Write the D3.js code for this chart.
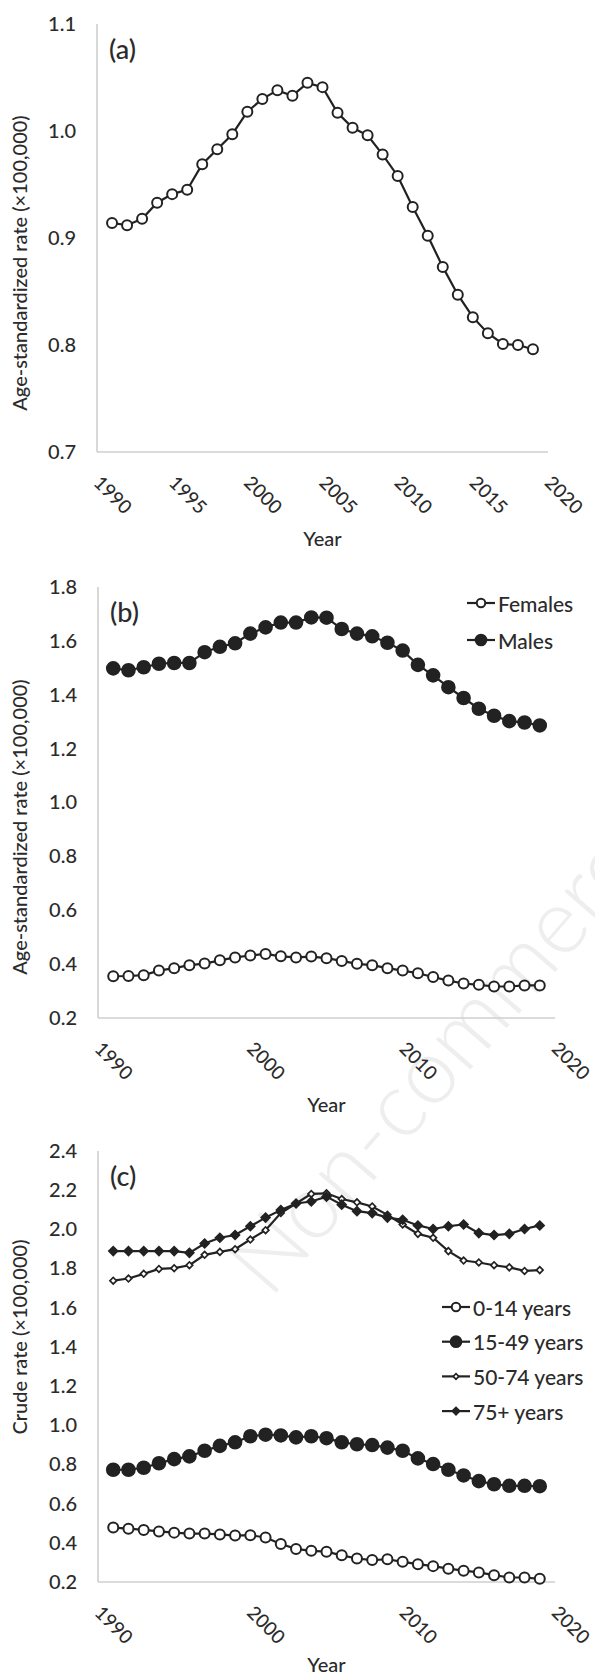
<!DOCTYPE html>
<html>
<head>
<meta charset="utf-8">
<script src="https://cdn.jsdelivr.net/npm/d3@7"></script>
<style>
  body { margin: 0; background: #fff; }
  svg { display: block; font-family: Lato, "Open Sans", sans-serif; }
</style>
</head>
<body>
<script>
"use strict";

// data, 1991-2019
const years = d3.range(1991, 2020);

const overall = [0.914, 0.912, 0.918, 0.933, 0.941, 0.945, 0.969, 0.983, 0.997, 1.018,
                 1.030, 1.038, 1.033, 1.045, 1.041, 1.017, 1.003, 0.996, 0.978, 0.958,
                 0.929, 0.902, 0.873, 0.847, 0.826, 0.811, 0.801, 0.800, 0.796];

const females = [0.355, 0.356, 0.359, 0.376, 0.385, 0.396, 0.402, 0.414, 0.425, 0.432,
                 0.438, 0.429, 0.425, 0.428, 0.422, 0.412, 0.401, 0.396, 0.385, 0.376,
                 0.366, 0.352, 0.339, 0.328, 0.323, 0.317, 0.317, 0.321, 0.321];

const males = [1.498, 1.491, 1.502, 1.515, 1.518, 1.518, 1.558, 1.578, 1.591, 1.627,
               1.650, 1.668, 1.668, 1.687, 1.686, 1.644, 1.627, 1.617, 1.593, 1.564,
               1.511, 1.472, 1.428, 1.388, 1.348, 1.322, 1.302, 1.297, 1.286];

const age0to14 = [0.478, 0.472, 0.466, 0.458, 0.452, 0.447, 0.447, 0.443, 0.437, 0.439,
                  0.427, 0.394, 0.369, 0.359, 0.355, 0.336, 0.320, 0.312, 0.316, 0.303,
                  0.291, 0.281, 0.268, 0.258, 0.249, 0.235, 0.223, 0.223, 0.216];

const age15to49 = [0.773, 0.773, 0.783, 0.806, 0.827, 0.841, 0.870, 0.895, 0.913, 0.944,
                   0.952, 0.948, 0.938, 0.944, 0.934, 0.913, 0.903, 0.899, 0.886, 0.870,
                   0.831, 0.802, 0.773, 0.744, 0.715, 0.699, 0.691, 0.691, 0.689];

const age50to74 = [1.738, 1.749, 1.773, 1.798, 1.802, 1.817, 1.870, 1.885, 1.899, 1.948,
                   1.996, 2.083, 2.132, 2.181, 2.184, 2.155, 2.138, 2.117, 2.074, 2.025,
                   1.977, 1.957, 1.889, 1.841, 1.831, 1.817, 1.806, 1.788, 1.792];

const age75plus = [1.889, 1.889, 1.889, 1.889, 1.889, 1.880, 1.928, 1.957, 1.971, 2.016,
                   2.060, 2.099, 2.132, 2.142, 2.167, 2.126, 2.093, 2.083, 2.060, 2.049,
                   2.020, 2.002, 2.016, 2.025, 1.981, 1.971, 1.977, 2.002, 2.020];

const ticksA = [0.7, 0.8, 0.9, 1.0, 1.1];
const ticksB = [0.2, 0.4, 0.6, 0.8, 1.0, 1.2, 1.4, 1.6, 1.8];
const ticksC = [0.2, 0.4, 0.6, 0.8, 1.0, 1.2, 1.4, 1.6, 1.8, 2.0, 2.2, 2.4];
const yearTicksA = [1990, 1995, 2000, 2005, 2010, 2015, 2020];
const yearTicksBC = [1990, 2000, 2010, 2020];

const width = 595, height = 1677;
const ink = "#222";
const textInk = "#2b2b2b";

const svg = d3.select("body").append("svg")
    .attr("width", width)
    .attr("height", height);

svg.append("rect").attr("width", width).attr("height", height).attr("fill", "#fff");

// faint watermark behind everything
svg.append("text")
    .attr("transform", "translate(270,1300) rotate(-49)")
    .attr("font-size", 92)
    .attr("font-weight", 300)
    .attr("fill", "#eeeeee")
    .text("Non-commercial use only");

// marker drawing
const circleOpen = { shape: "circle", r: 5, fill: "#fff" };
const circleFull = { shape: "circle", r: 6.3, fill: ink };
const diamondOpen = { shape: "diamond", size: 22, fill: "#fff" };
const diamondFull = { shape: "diamond", size: 38, fill: ink };

function drawMarker(g, x, y, m, scale) {
    scale = scale || 1;
    if (m.shape === "circle") {
        g.append("circle")
            .attr("cx", x).attr("cy", y)
            .attr("r", m.r * scale)
            .attr("fill", m.fill)
            .attr("stroke", ink)
            .attr("stroke-width", 2);
    } else {
        g.append("path")
            .attr("d", d3.symbol().type(d3.symbolSquare).size(m.size * scale * scale)())
            .attr("transform", `translate(${x},${y}) rotate(45)`)
            .attr("fill", m.fill)
            .attr("stroke", ink)
            .attr("stroke-width", 1.7);
    }
}

function panel(opt) {
    const x = d3.scaleLinear().domain([1990, 2020]).range([opt.left, opt.right]);
    const y = d3.scaleLinear().domain(opt.yDomain).range([opt.bottom, opt.top]);
    const g = svg.append("g");

    // axis lines (Excel style, light grey, no ticks)
    g.append("line")
        .attr("x1", opt.left).attr("x2", opt.left)
        .attr("y1", opt.top).attr("y2", opt.bottom)
        .attr("stroke", "#cfcfcf").attr("stroke-width", 1.6);
    g.append("line")
        .attr("x1", opt.left).attr("x2", opt.right)
        .attr("y1", opt.bottom).attr("y2", opt.bottom)
        .attr("stroke", "#cfcfcf").attr("stroke-width", 1.6);

    const yAxis = g.append("g")
        .attr("transform", `translate(${opt.left},0)`)
        .call(d3.axisLeft(y).tickValues(opt.yTicks).tickSize(0).tickPadding(21)
            .tickFormat(d3.format(".1f")));
    yAxis.select(".domain").remove();
    yAxis.selectAll("text")
        .attr("font-size", 20)
        .attr("font-weight", 500)
        .attr("font-family", "Lato, sans-serif")
        .attr("fill", textInk);

    const xAxis = g.append("g")
        .attr("transform", `translate(0,${opt.bottom})`)
        .call(d3.axisBottom(x).tickValues(opt.xTicks).tickSize(0).tickFormat(d3.format("d")));
    xAxis.select(".domain").remove();
    xAxis.selectAll("text")
        .attr("font-size", 19)
        .attr("font-weight", 500)
        .attr("font-family", "Lato, sans-serif")
        .attr("fill", textInk)
        .attr("text-anchor", "start")
        .attr("x", 0).attr("y", 0).attr("dy", 0)
        .attr("transform", "translate(-5,32) rotate(45)");

    g.append("text")
        .attr("x", (opt.left + opt.right) / 2)
        .attr("y", opt.bottom + opt.yearGap)
        .attr("text-anchor", "middle")
        .attr("dominant-baseline", "central")
        .attr("font-size", 20)
        .attr("font-weight", 500)
        .attr("fill", textInk)
        .text("Year");

    g.append("text")
        .attr("transform", `translate(27,${opt.yLabelCenter}) rotate(-90)`)
        .attr("text-anchor", "middle")
        .attr("font-size", 20)
        .attr("font-weight", 500)
        .attr("fill", textInk)
        .text(opt.yLabel);

    g.append("text")
        .attr("x", opt.left + 12)
        .attr("y", opt.top + 35)
        .attr("font-size", 27)
        .attr("font-weight", 500)
        .attr("fill", textInk)
        .text(opt.tag);

    const line = d3.line().x((d, i) => x(years[i])).y(d => y(d));

    opt.series.forEach(s => {
        g.append("path")
            .datum(s.values)
            .attr("d", line)
            .attr("fill", "none")
            .attr("stroke", ink)
            .attr("stroke-width", 2.2);
        const mg = g.append("g");
        s.values.forEach((v, i) => drawMarker(mg, x(years[i]), y(v), s.marker));
    });

    if (opt.legend) {
        const L = opt.legend;
        opt.series.forEach((s, i) => {
            const cy = L.y + i * L.step;
            g.append("line")
                .attr("x1", L.x).attr("x2", L.x + 28)
                .attr("y1", cy).attr("y2", cy)
                .attr("stroke", ink).attr("stroke-width", 2.2);
            drawMarker(g, L.x + 14, cy, s.marker, 0.85);
            g.append("text")
                .attr("x", L.x + 31)
                .attr("y", cy)
                .attr("dominant-baseline", "central")
                .attr("font-size", 21)
                .attr("font-weight", 500)
                .attr("fill", textInk)
                .text(s.name);
        });
    }
}

panel({
    tag: "(a)",
    left: 97, right: 548, top: 24, bottom: 452, yearGap: 86,
    yDomain: [0.7, 1.1], yTicks: ticksA, xTicks: yearTicksA,
    yLabel: "Age-standardized rate (\u00d7100,000)", yLabelCenter: 263,
    series: [{ name: "All", values: overall, marker: circleOpen }]
});

panel({
    tag: "(b)",
    left: 98, right: 555, top: 587, bottom: 1018, yearGap: 86,
    yDomain: [0.2, 1.8], yTicks: ticksB, xTicks: yearTicksBC,
    yLabel: "Age-standardized rate (\u00d7100,000)", yLabelCenter: 827,
    series: [
        { name: "Females", values: females, marker: circleOpen },
        { name: "Males", values: males, marker: circleFull }
    ],
    legend: { x: 467, y: 603, step: 37 }
});

panel({
    tag: "(c)",
    left: 98, right: 555, top: 1151, bottom: 1582, yearGap: 82,
    yDomain: [0.2, 2.4], yTicks: ticksC, xTicks: yearTicksBC,
    yLabel: "Crude rate (\u00d7100,000)", yLabelCenter: 1337,
    series: [
        { name: "0-14 years", values: age0to14, marker: circleOpen },
        { name: "15-49 years", values: age15to49, marker: circleFull },
        { name: "50-74 years", values: age50to74, marker: diamondOpen },
        { name: "75+ years", values: age75plus, marker: diamondFull }
    ],
    legend: { x: 442, y: 1307, step: 34.7 }
});
</script>
</body>
</html>
